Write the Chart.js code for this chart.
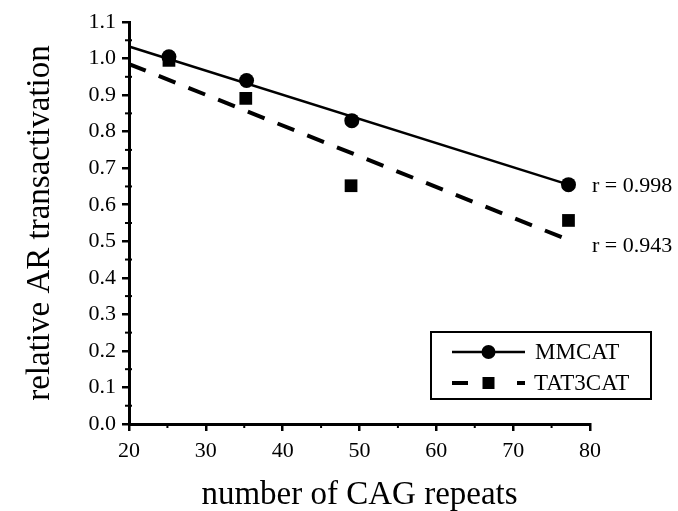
<!DOCTYPE html>
<html>
<head>
<meta charset="utf-8">
<script src="https://cdn.jsdelivr.net/npm/chart.js@4.4.0/dist/chart.umd.min.js"></script>
<style>
html, body { margin: 0; padding: 0; background: #fff; }
</style>
</head>
<body>
<canvas id="myChart" width="678" height="511"></canvas>
<script>
// data
var mmcatCag = [25.2, 35.3, 49.0, 77.2];
var mmcatValues = [1.005, 0.940, 0.830, 0.655];
var tat3catCag = [25.2, 35.2, 48.9, 77.2];
var tat3catValues = [0.995, 0.891, 0.652, 0.557];
// regression lines (end points)
var mmcatFitX = [20, 77.2];
var mmcatFitY = [1.033, 0.655];
var tat3catFitX = [20, 76.8];
var tat3catFitY = [0.985, 0.507];
var seriesNames = ['MMCAT', 'TAT3CAT'];
var rLabels = ['r = 0.998', 'r = 0.943'];
var xMinorTicks = [25, 35, 45, 55, 65, 75];
var yMinorTicks = [0.05, 0.15, 0.25, 0.35, 0.45, 0.55, 0.65, 0.75, 0.85, 0.95, 1.05];

var serif = "'Liberation Serif', 'DejaVu Serif', serif";
var dash = [18, 14];

function toPoints(xs, ys) {
    var pts = [];
    for (var i = 0; i < xs.length; i++) {
        pts.push({x: xs[i], y: ys[i]});
    }
    return pts;
}

var extras = {
    id: 'extras',
    afterDraw: function (chart) {
        var ctx = chart.ctx;
        var xs = chart.scales.x, ys = chart.scales.y;
        var area = chart.chartArea;
        ctx.save();
        ctx.strokeStyle = '#000';
        ctx.fillStyle = '#000';

        // minor ticks
        ctx.lineWidth = 2;
        xMinorTicks.forEach(function (v) {
            var px = xs.getPixelForValue(v);
            ctx.beginPath();
            ctx.moveTo(px, area.bottom);
            ctx.lineTo(px, area.bottom + 4);
            ctx.stroke();
        });
        yMinorTicks.forEach(function (v) {
            var py = ys.getPixelForValue(v);
            ctx.beginPath();
            ctx.moveTo(area.left - 4, py);
            ctx.lineTo(area.left + 3, py);
            ctx.stroke();
        });

        // r values next to the last points
        ctx.font = '22px ' + serif;
        ctx.textBaseline = 'middle';
        ctx.textAlign = 'left';
        ctx.fillText(rLabels[0], area.right + 2, ys.getPixelForValue(mmcatValues[3]) + 2);
        ctx.fillText(rLabels[1], area.right + 2, ys.getPixelForValue(tat3catFitY[1]) + 8);

        // legend box
        var bx = 431, by = 332, bw = 220, bh = 67;
        ctx.lineWidth = 2;
        ctx.strokeRect(bx, by, bw, bh);
        var rows = [by + 20, by + 51];
        var lx1 = bx + 21, lx2 = bx + 94, mid = (lx1 + lx2) / 2;
        // MMCAT sample
        ctx.lineWidth = 2.5;
        ctx.beginPath();
        ctx.moveTo(lx1, rows[0]);
        ctx.lineTo(lx2, rows[0]);
        ctx.stroke();
        ctx.beginPath();
        ctx.arc(mid, rows[0], 7, 0, Math.PI * 2);
        ctx.fill();
        // TAT3CAT sample
        ctx.lineWidth = 4;
        ctx.beginPath();
        ctx.moveTo(lx1, rows[1]);
        ctx.lineTo(lx1 + 16, rows[1]);
        ctx.moveTo(lx2 - 8, rows[1]);
        ctx.lineTo(lx2, rows[1]);
        ctx.stroke();
        ctx.fillRect(mid - 6, rows[1] - 6, 12, 12);

        ctx.font = '23px ' + serif;
        ctx.fillText(seriesNames[0], lx2 + 10, rows[0] + 1);
        ctx.fillText(seriesNames[1], lx2 + 9, rows[1] + 1);
        ctx.restore();
    }
};

var ctx = document.getElementById('myChart');
var myChart = new Chart(ctx, {
    type: 'scatter',
    data: {
        datasets: [{
            label: seriesNames[0] + ' fit',
            data: toPoints(mmcatFitX, mmcatFitY),
            showLine: true,
            borderColor: '#000',
            borderWidth: 2.5,
            pointRadius: 0,
            clip: false
        }, {
            label: seriesNames[1] + ' fit',
            data: toPoints(tat3catFitX, tat3catFitY),
            showLine: true,
            borderColor: '#000',
            borderWidth: 4,
            borderDash: dash,
            pointRadius: 0,
            clip: false
        }, {
            label: seriesNames[0],
            data: toPoints(mmcatCag, mmcatValues),
            pointStyle: 'circle',
            pointRadius: 7.5,
            backgroundColor: '#000',
            borderColor: '#000',
            borderWidth: 0,
            clip: false
        }, {
            label: seriesNames[1],
            data: toPoints(tat3catCag, tat3catValues),
            pointStyle: 'rect',
            pointRadius: 9,
            backgroundColor: '#000',
            borderColor: '#000',
            borderWidth: 0,
            clip: false
        }]
    },
    options: {
        responsive: false,
        animation: false,
        layout: { padding: { top: 22, right: 88, left: 0, bottom: 0 } },
        plugins: {
            legend: { display: false },
            tooltip: { enabled: false }
        },
        scales: {
            x: {
                type: 'linear',
                min: 20,
                max: 80,
                afterFit: function (scale) { scale.height = 87; },
                ticks: {
                    stepSize: 10,
                    color: '#000',
                    padding: 7,
                    font: { family: serif, size: 22 }
                },
                grid: {
                    drawOnChartArea: false,
                    drawTicks: true,
                    tickLength: 7,
                    color: '#000',
                    lineWidth: 2.5
                },
                border: { display: true, color: '#000', width: 3 },
                title: {
                    display: true,
                    text: 'number of CAG repeats',
                    color: '#000',
                    font: { family: serif, size: 33 },
                    padding: { top: 0, bottom: -4 }
                }
            },
            y: {
                min: 0,
                max: 1.1,
                afterFit: function (scale) { scale.width = 129; },
                ticks: {
                    stepSize: 0.1,
                    color: '#000',
                    padding: 6,
                    font: { family: serif, size: 22 },
                    callback: function (v) { return v.toFixed(1); }
                },
                grid: {
                    drawOnChartArea: false,
                    drawTicks: true,
                    tickLength: 7,
                    color: '#000',
                    lineWidth: 2.5
                },
                border: { display: true, color: '#000', width: 3 },
                title: {
                    display: true,
                    text: 'relative AR transactivation',
                    color: '#000',
                    font: { family: serif, size: 33 },
                    padding: { top: 21, bottom: 0 }
                }
            }
        }
    },
    plugins: [extras]
});
</script>
</body>
</html>
